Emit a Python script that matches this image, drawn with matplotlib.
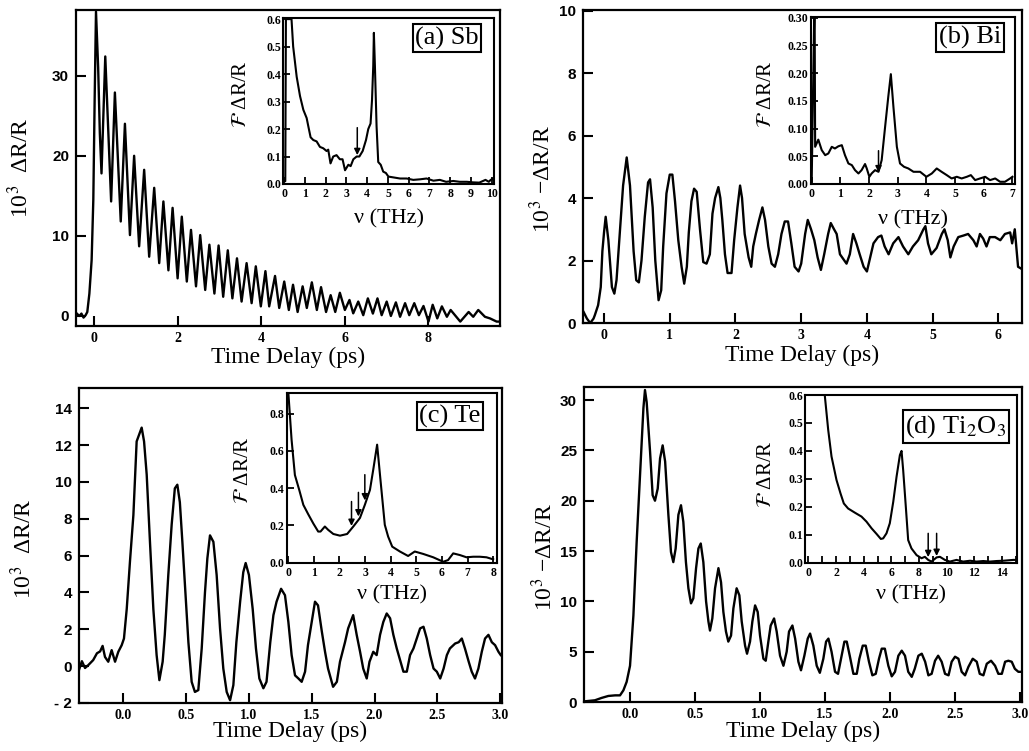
import numpy as np
import matplotlib
matplotlib.use('Agg')
import matplotlib.pyplot as plt

plt.rcParams['font.family'] = 'Liberation Serif'
plt.rcParams['mathtext.fontset'] = 'stix'

# (a) Sb time trace
sb_t = [-0.43, -0.35, -0.3, -0.25, -0.2, -0.16, -0.11, -0.056, -0.016, 0.016,
        0.048, 0.10, 0.14, 0.18, 0.27, 0.41, 0.50, 0.64, 0.74, 0.86,
        0.96, 1.08, 1.20, 1.32, 1.44, 1.56, 1.66, 1.78, 1.88, 2.00,
        2.10, 2.22, 2.32, 2.44, 2.54, 2.66, 2.76, 2.88, 2.98, 3.09,
        3.20, 3.31, 3.42, 3.53, 3.65, 3.77, 3.87, 3.99, 4.10, 4.19,
        4.33, 4.43, 4.55, 4.66, 4.76, 4.87, 4.99, 5.09, 5.21, 5.33,
        5.43, 5.55, 5.66, 5.77, 5.88, 6.00, 6.11, 6.20, 6.32, 6.44,
        6.55, 6.67, 6.78, 6.88, 7.00, 7.10, 7.22, 7.32, 7.44, 7.54,
        7.66, 7.77, 7.88, 8.00, 8.10, 8.21, 8.32, 8.44, 8.53, 8.76,
        8.96, 9.07, 9.19, 9.35, 9.47, 9.63, 9.71]
sb_y = [0.4, 0.0, 0.3, -0.2, 0.1, 0.5, 2.8, 7.0, 14.5, 27.0,
        38.0, 31.0, 22.8, 17.8, 32.4, 14.3, 27.9, 11.8, 24.0, 10.1,
        20.0, 8.7, 18.25, 7.4, 16.0, 6.6, 14.3, 5.7, 13.5, 4.7,
        12.4, 4.3, 10.75, 3.7, 10.1, 3.25, 8.9, 2.8, 8.8, 2.4,
        8.2, 2.2, 7.2, 1.8, 6.6, 1.6, 6.2, 1.2, 5.6, 1.2,
        5.0, 1.0, 4.3, 0.75, 3.9, 0.5, 3.7, 1.0, 4.2, 0.75,
        3.6, 0.5, 2.6, 0.5, 2.9, 0.75, 2.0, 0.33, 1.8, 0.1,
        2.2, 0.3, 2.2, 0.1, 1.8, 0.0, 1.7, -0.1, 1.6, 0.1,
        1.6, 0.1, 1.25, -0.7, 1.4, -0.3, 1.2, -0.1, 0.75, -0.7,
        0.5, -0.1, 0.75, -0.1, -0.3, -0.7, -0.7]

# (b) Bi time trace
bi_t = [-0.31, -0.26, -0.21, -0.16, -0.14, -0.09, -0.05, -0.025, 0.0, 0.025,
        0.066, 0.12, 0.157, 0.19, 0.24, 0.29, 0.345, 0.395, 0.45, 0.49,
        0.53, 0.57, 0.62, 0.67, 0.70, 0.74, 0.78, 0.83, 0.87, 0.90,
        0.95, 1.0, 1.04, 1.08, 1.13, 1.18, 1.22, 1.26, 1.29, 1.33,
        1.37, 1.41, 1.46, 1.51, 1.56, 1.61, 1.65, 1.69, 1.74, 1.77,
        1.80, 1.84, 1.88, 1.94, 1.98, 2.03, 2.07, 2.10, 2.14, 2.20,
        2.24, 2.27, 2.31, 2.36, 2.41, 2.45, 2.50, 2.55, 2.60, 2.65,
        2.70, 2.75, 2.80, 2.85, 2.90, 2.96, 3.0, 3.06, 3.10, 3.15,
        3.2, 3.25, 3.30, 3.35, 3.41, 3.45, 3.50, 3.54, 3.59, 3.64,
        3.69, 3.74, 3.79, 3.84, 3.89, 3.95, 4.0, 4.05, 4.10, 4.17,
        4.22, 4.27, 4.33, 4.40, 4.48, 4.55, 4.63, 4.70, 4.78, 4.86,
        4.89, 4.93, 4.98, 5.06, 5.14, 5.18, 5.23, 5.27, 5.32, 5.39,
        5.47, 5.54, 5.62, 5.67, 5.72, 5.77, 5.82, 5.87, 5.95, 6.03,
        6.10, 6.18, 6.21, 6.25, 6.30, 6.34]
bi_y = [0.35, 0.14, 0.0, 0.14, 0.25, 0.57, 1.15, 2.3, 2.9, 3.4,
        2.65, 1.15, 0.94, 1.37, 2.9, 4.4, 5.3, 4.4, 2.3, 1.37,
        1.3, 2.0, 3.4, 4.5, 4.6, 3.7, 2.0, 0.73, 1.05, 2.45,
        4.15, 4.75, 4.75, 3.9, 2.65, 1.8, 1.26, 1.8, 2.9, 3.9,
        4.3, 4.2, 3.0, 1.95, 1.9, 2.2, 3.5, 4.0, 4.35, 4.0,
        3.3, 2.2, 1.6, 1.6, 2.65, 3.7, 4.4, 4.0, 2.85, 2.1,
        1.8, 2.45, 2.85, 3.3, 3.7, 3.3, 2.45, 1.9, 1.8, 2.2,
        2.85, 3.25, 3.25, 2.55, 1.8, 1.65, 1.9, 2.85, 3.3, 3.0,
        2.65, 2.1, 1.7, 2.2, 2.85, 3.2, 3.0, 2.85, 2.2, 2.05,
        1.9, 2.2, 2.85, 2.55, 2.2, 1.8, 1.65, 2.1, 2.55, 2.75,
        2.8, 2.45, 2.2, 2.55, 2.75, 2.45, 2.2, 2.45, 2.65, 3.0,
        3.1, 2.55, 2.2, 2.4, 2.85, 3.0, 2.65, 2.1, 2.45, 2.75,
        2.8, 2.85, 2.65, 2.45, 2.85, 2.7, 2.45, 2.75, 2.75, 2.65,
        2.85, 2.9, 2.55, 3.0, 1.8, 1.75]

# (c) Te time trace
te_t = [-0.353, -0.33, -0.305, -0.28, -0.24, -0.21, -0.185, -0.165, -0.146, -0.12,
        -0.093, -0.066, -0.04, -0.013, 0.005, 0.027, 0.053, 0.08, 0.106, 0.133,
        0.146, 0.165, 0.186, 0.212, 0.239, 0.265, 0.287, 0.313, 0.33, 0.358,
        0.385, 0.41, 0.43, 0.45, 0.47, 0.494, 0.518, 0.544, 0.57, 0.597,
        0.624, 0.65, 0.669, 0.69, 0.717, 0.743, 0.77, 0.796, 0.823, 0.85,
        0.876, 0.9, 0.93, 0.955, 0.974, 1.0, 1.03, 1.056, 1.083, 1.115,
        1.14, 1.17, 1.195, 1.22, 1.256, 1.287, 1.314, 1.34, 1.367, 1.394,
        1.42, 1.447, 1.47, 1.5, 1.526, 1.55, 1.58, 1.606, 1.63, 1.67,
        1.7, 1.725, 1.765, 1.79, 1.83, 1.858, 1.885, 1.91, 1.938, 1.96,
        1.99, 2.017, 2.044, 2.07, 2.097, 2.124, 2.15, 2.177, 2.2, 2.23,
        2.257, 2.283, 2.31, 2.336, 2.363, 2.39, 2.416, 2.443, 2.47, 2.496,
        2.523, 2.55, 2.576, 2.6, 2.642, 2.67, 2.695, 2.72, 2.75, 2.774,
        2.8, 2.827, 2.854, 2.88, 2.907, 2.934, 2.96, 2.987, 3.005]
te_y = [-0.2, 0.27, -0.1, 0.05, 0.33, 0.7, 0.8, 1.1, 0.5, 0.24,
        0.87, 0.24, 0.78, 1.14, 1.5, 3.1, 5.7, 8.2, 12.2, 12.7,
        12.95, 12.2, 10.4, 6.75, 3.1, 0.6, -0.76, 0.24, 1.7, 4.95,
        7.7, 9.65, 9.85, 8.9, 6.75, 4.0, 1.3, -0.85, -1.4, -1.3,
        0.96, 4.0, 5.85, 7.1, 6.75, 4.95, 2.05, -0.13, -1.4, -1.85,
        -1.03, 1.3, 3.5, 5.1, 5.6, 4.95, 3.1, 0.96, -0.67, -1.2,
        -0.85, 1.3, 2.77, 3.5, 4.2, 3.85, 2.4, 0.6, -0.5, -0.67,
        -0.85, -0.3, 1.14, 2.4, 3.5, 3.3, 1.9, 0.78, -0.13, -1.12,
        -0.85, 0.24, 1.3, 2.05, 2.77, 1.7, 0.78, -0.13, -0.67, 0.24,
        0.78, 0.6, 1.7, 2.4, 2.86, 2.6, 1.7, 0.96, 0.42, -0.3,
        -0.3, 0.6, 0.96, 1.5, 2.05, 2.14, 1.5, 0.6, -0.13, -0.3,
        -0.67, -0.13, 0.6, 0.96, 1.23, 1.3, 1.5, 0.96, 0.24, -0.3,
        -0.67, -0.13, 0.78, 1.5, 1.7, 1.3, 1.14, 0.78, 0.6]

# (d) Ti2O3 time trace
ti_t = [-0.346, -0.27, -0.22, -0.167, -0.115, -0.077, -0.051, -0.026, 0.0, 0.026,
        0.051, 0.077, 0.103, 0.115, 0.128, 0.154, 0.174, 0.192, 0.213, 0.231,
        0.251, 0.27, 0.295, 0.315, 0.333, 0.351, 0.372, 0.392, 0.41, 0.43,
        0.449, 0.469, 0.487, 0.508, 0.526, 0.544, 0.564, 0.585, 0.603, 0.615,
        0.633, 0.654, 0.68, 0.7, 0.718, 0.738, 0.756, 0.777, 0.795, 0.82,
        0.841, 0.859, 0.885, 0.9, 0.923, 0.941, 0.962, 0.982, 1.0, 1.026,
        1.044, 1.064, 1.082, 1.108, 1.128, 1.154, 1.18, 1.205, 1.223, 1.249,
        1.27, 1.295, 1.315, 1.341, 1.367, 1.385, 1.41, 1.436, 1.46, 1.487,
        1.508, 1.526, 1.55, 1.577, 1.6, 1.623, 1.649, 1.667, 1.69, 1.718,
        1.744, 1.764, 1.79, 1.813, 1.838, 1.864, 1.89, 1.915, 1.936, 1.96,
        1.987, 2.013, 2.038, 2.064, 2.09, 2.115, 2.14, 2.167, 2.19, 2.218,
        2.244, 2.27, 2.295, 2.32, 2.346, 2.37, 2.397, 2.423, 2.45, 2.474,
        2.5, 2.526, 2.551, 2.577, 2.603, 2.636, 2.667, 2.69, 2.718, 2.744,
        2.777, 2.808, 2.833, 2.86, 2.885, 2.91, 2.936, 2.96, 2.987, 3.008]
ti_y = [0.07, 0.17, 0.4, 0.6, 0.66, 0.66, 1.16, 2.0, 3.6, 8.6,
        15.9, 22.5, 29.2, 31.0, 29.8, 24.9, 20.55, 20.0, 21.2, 24.2,
        25.5, 23.9, 18.6, 14.9, 13.9, 15.25, 18.6, 19.55, 17.9, 13.9,
        11.3, 9.8, 10.3, 13.3, 15.25, 15.75, 13.9, 10.0, 8.0, 7.1,
        8.3, 11.3, 13.3, 11.9, 8.95, 7.0, 6.0, 6.6, 9.3, 11.3,
        10.6, 8.0, 5.6, 4.8, 6.0, 8.0, 9.6, 8.95, 6.6, 4.3,
        4.1, 6.0, 7.6, 8.3, 7.0, 4.6, 3.6, 5.0, 7.0, 7.6,
        6.3, 4.0, 3.15, 4.6, 6.3, 6.8, 5.6, 3.6, 2.9, 4.3,
        6.0, 6.3, 5.0, 3.0, 2.8, 4.3, 6.0, 6.0, 4.6, 2.8,
        2.8, 4.3, 5.6, 5.6, 4.0, 2.65, 2.8, 4.3, 5.3, 5.3,
        3.6, 2.55, 3.0, 4.6, 5.1, 4.6, 3.0, 2.5, 3.3, 4.6,
        4.8, 4.0, 2.65, 2.8, 4.1, 4.6, 4.0, 2.8, 2.65, 4.0,
        4.5, 4.3, 3.0, 2.65, 3.5, 4.3, 4.0, 2.8, 2.65, 3.8,
        4.1, 3.6, 2.8, 2.8, 4.0, 4.1, 4.0, 3.3, 3.0, 3.0]

# Fourier spectra (insets)
sb_nu = [0.0, 0.05, 0.08, 0.35, 0.43, 0.6, 0.76, 0.92, 1.08, 1.16,
         1.27, 1.4, 1.56, 1.72, 1.88, 2.04, 2.12, 2.23, 2.36, 2.52,
         2.68, 2.81, 2.93, 3.09, 3.2, 3.33, 3.49, 3.62, 3.78, 3.94,
         4.05, 4.16, 4.23, 4.29, 4.32, 4.37, 4.45, 4.53, 4.65, 4.77,
         4.9, 5.02, 5.26, 5.58, 5.9, 6.22, 6.54, 6.86, 7.19, 7.5,
         7.8, 8.15, 8.46, 8.8, 9.1, 9.4, 9.7, 9.86, 9.95, 10.1]
sb_ft = [0.01, 0.01, 0.6, 0.6, 0.5, 0.39, 0.32, 0.27, 0.24, 0.21,
         0.17, 0.16, 0.155, 0.135, 0.13, 0.12, 0.125, 0.075, 0.1, 0.105,
         0.09, 0.09, 0.05, 0.07, 0.065, 0.09, 0.1, 0.1, 0.12, 0.16,
         0.2, 0.22, 0.305, 0.43, 0.55, 0.43, 0.21, 0.08, 0.07, 0.045,
         0.04, 0.027, 0.024, 0.02, 0.02, 0.015, 0.017, 0.02, 0.012, 0.015,
         0.008, 0.011, 0.008, 0.008, 0.006, 0.005, 0.015, 0.008, 0.015, 0.02]

bi_nu = [0.0, 0.1, 0.12, 0.23, 0.35, 0.47, 0.58, 0.7, 0.81, 0.93,
         1.05, 1.16, 1.28, 1.4, 1.51, 1.63, 1.74, 1.86, 1.92, 2.01,
         2.09, 2.21, 2.33, 2.44, 2.56, 2.67, 2.76, 2.85, 2.97, 3.08,
         3.22, 3.37, 3.55, 3.78, 4.0, 4.19, 4.36, 4.53, 4.71, 4.88,
         5.06, 5.23, 5.41, 5.55, 5.7, 5.87, 6.05, 6.22, 6.4, 6.57,
         6.74, 6.92, 7.0]
bi_ft = [0.005, 0.35, 0.067, 0.08, 0.061, 0.052, 0.055, 0.067, 0.064, 0.068,
         0.07, 0.052, 0.037, 0.034, 0.025, 0.019, 0.025, 0.036, 0.028, 0.013,
         0.019, 0.025, 0.022, 0.043, 0.103, 0.157, 0.198, 0.139, 0.067, 0.037,
         0.031, 0.028, 0.022, 0.022, 0.013, 0.019, 0.028, 0.022, 0.016, 0.01,
         0.013, 0.01, 0.013, 0.016, 0.007, 0.01, 0.013, 0.007, 0.01, 0.004,
         0.004, 0.01, 0.013]

te_nu = [0.0, 0.13, 0.26, 0.43, 0.59, 0.78, 0.98, 1.17, 1.26, 1.43,
         1.56, 1.76, 2.02, 2.3, 2.54, 2.8, 2.99, 3.19, 3.32, 3.47,
         3.6, 3.77, 3.9, 4.06, 4.36, 4.68, 4.94, 5.27, 5.66, 6.05,
         6.24, 6.44, 6.7, 6.96, 7.22, 7.48, 7.74, 8.0]
te_ft = [0.92, 0.66, 0.47, 0.39, 0.31, 0.26, 0.21, 0.167, 0.167, 0.194,
         0.176, 0.154, 0.145, 0.154, 0.194, 0.24, 0.31, 0.39, 0.5, 0.633,
         0.445, 0.203, 0.14, 0.086, 0.06, 0.036, 0.06, 0.047, 0.029, 0.005,
         0.014, 0.05, 0.041, 0.029, 0.032, 0.032, 0.029, 0.018]

ti_nu = [1.0, 1.18, 1.43, 1.67, 2.03, 2.32, 2.56, 2.87, 3.36, 3.84,
         4.2, 4.57, 4.93, 5.24, 5.41, 5.65, 5.89, 6.14, 6.38, 6.62,
         6.74, 6.86, 7.05, 7.22, 7.46, 7.83, 8.19, 8.43, 8.67, 8.91,
         9.28, 9.52, 9.88, 10.24, 10.72, 11.2, 11.7, 12.17, 12.66, 13.14,
         13.62, 14.1, 14.83, 15.2]
ti_ft = [0.75, 0.6, 0.475, 0.38, 0.296, 0.248, 0.212, 0.194, 0.179, 0.165,
         0.147, 0.123, 0.103, 0.085, 0.087, 0.105, 0.141, 0.218, 0.308, 0.385,
         0.4, 0.33, 0.2, 0.081, 0.051, 0.027, 0.016, 0.021, 0.01, 0.004,
         0.019, 0.021, 0.01, 0.004, 0.01, 0.004, 0.007, 0.004, 0.006, 0.004,
         0.006, 0.007, 0.01, 0.01]

# arrows in the insets: (nu, tail, tip)
sb_arrows = [(3.52, 0.205, 0.105)]
bi_arrows = [(2.33, 0.06, 0.021)]
te_arrows = [(2.47, 0.328, 0.197), (2.74, 0.377, 0.248), (2.99, 0.472, 0.334)]
ti_arrows = [(8.67, 0.105, 0.02), (9.28, 0.105, 0.024)]

panel_labels = ['(a) Sb', '(b) Bi', '(c) Te', '(d) Ti$_2$O$_3$']

W, H = 1029, 751


def rect(x0, y0, x1, y1):
    return [x0 / W, 1 - y1 / H, (x1 - x0) / W, (y1 - y0) / H]


def fmt(v, nd):
    s = '%.*f' % (nd, v)
    return s.replace('-', '- ')


def main_panel(fig, r, t, y, xlim, ylim, xticks, yticks, xnd, ynd, ylabel, ylx, yly, xly):
    ax = fig.add_axes(r)
    ax.plot(t, y, color='k', lw=1.7)
    ax.set_xlim(xlim)
    ax.set_ylim(ylim)
    ax.set_xticks(xticks)
    ax.set_yticks(yticks)
    ax.set_xticklabels([fmt(v, xnd) for v in xticks])
    ax.set_yticklabels([fmt(v, ynd) for v in yticks])
    plt.setp(ax.get_xticklabels(), fontfamily='Liberation Serif', fontweight='bold', fontsize=10)
    plt.setp(ax.get_yticklabels(), fontfamily='Liberation Sans', fontweight='bold', fontsize=11)
    ax.tick_params(direction='in', length=7, width=1.5)
    ax.tick_params(axis='y', pad=5)
    ax.tick_params(axis='x', pad=4)
    for s in ax.spines.values():
        s.set_linewidth(1.6)
    ax.set_xlabel('Time Delay (ps)', fontsize=17)
    ax.set_ylabel(ylabel, fontsize=17)
    ax.xaxis.set_label_coords(0.5, xly)
    ax.yaxis.set_label_coords(ylx, yly)
    return ax


def inset_panel(fig, r, nu, ft, xlim, ylim, xticks, xlabeled, yticks, ynd, arrows, ylx, yly, xly):
    ax = fig.add_axes(r)
    ax.set_facecolor('white')
    ax.plot(nu, ft, color='k', lw=1.5)
    ax.set_xlim(xlim)
    ax.set_ylim(ylim)
    ax.set_xticks(xticks)
    ax.set_xticklabels(['%g' % v if v in xlabeled else '' for v in xticks])
    ax.set_yticks(yticks)
    ax.set_yticklabels([fmt(v, ynd) for v in yticks])
    plt.setp(ax.get_xticklabels() + ax.get_yticklabels(),
             fontfamily='Liberation Serif', fontweight='bold', fontsize=8.5)
    ax.tick_params(direction='in', length=5, width=1.3)
    ax.tick_params(axis='y', pad=1.5)
    ax.tick_params(axis='x', pad=3)
    for s in ax.spines.values():
        s.set_linewidth(1.5)
    for a in arrows:
        ax.annotate('', xy=(a[0], a[2]), xytext=(a[0], a[1]),
                    arrowprops=dict(arrowstyle='-|>', color='k', lw=1.1,
                                    mutation_scale=9, shrinkA=0, shrinkB=0))
    ax.set_xlabel('ν (THz)', fontsize=16)
    ax.set_ylabel('$\\mathcal{F}$ ΔR/R', fontsize=15)
    ax.xaxis.set_label_coords(0.5, xly)
    ax.yaxis.set_label_coords(ylx, yly)
    return ax


fig = plt.figure(figsize=(W / 100, H / 100), dpi=100)

main_panel(fig, rect(76, 10, 500, 326), sb_t, sb_y, (-0.43, 9.71), (-1.25, 38.2),
           [0, 2, 4, 6, 8], [0, 10, 20, 30], 0, 0,
           '10$^{3}$  ΔR/R', -0.10, 0.5, -0.065)
main_panel(fig, rect(583, 10, 1022, 323), bi_t, bi_y, (-0.32, 6.36), (0, 10.02),
           [0, 1, 2, 3, 4, 5, 6], [0, 2, 4, 6, 8, 10], 0, 0,
           '10$^{3}$ −ΔR/R', -0.064, 0.46, -0.07)
main_panel(fig, rect(79, 388, 502, 703), te_t, te_y, (-0.353, 3.015), (-2.0, 15.1),
           [0.0, 0.5, 1.0, 1.5, 2.0, 2.5, 3.0], [-2, 0, 2, 4, 6, 8, 10, 12, 14], 1, 0,
           '10$^{3}$  ΔR/R', -0.10, 0.49, -0.058)
main_panel(fig, rect(584, 387, 1022, 702), ti_t, ti_y, (-0.354, 3.015), (0, 31.3),
           [0.0, 0.5, 1.0, 1.5, 2.0, 2.5, 3.0], [0, 5, 10, 15, 20, 25, 30], 1, 0,
           '10$^{3}$ −ΔR/R', -0.062, 0.46, -0.06)

inset_panel(fig, rect(283, 18, 494, 184), sb_nu, sb_ft, (-0.06, 10.11), (0, 0.604),
            list(range(0, 11)), list(range(0, 11)), [0, 0.1, 0.2, 0.3, 0.4, 0.5, 0.6], 1,
            sb_arrows, -0.15, 0.54, -0.155)
inset_panel(fig, rect(810.7, 17, 1015, 184), bi_nu, bi_ft, (-0.035, 7.09), (0, 0.301),
            list(range(0, 8)), list(range(0, 8)), [0, 0.05, 0.1, 0.15, 0.2, 0.25, 0.3], 2,
            bi_arrows, -0.17, 0.54, -0.155)
inset_panel(fig, rect(286.7, 393, 497, 562.7), te_nu, te_ft, (-0.06, 8.15), (0, 0.91),
            list(range(0, 9)), list(range(0, 9)), [0, 0.2, 0.4, 0.6, 0.8], 1,
            te_arrows, -0.16, 0.545, -0.135)
inset_panel(fig, rect(805, 395, 1017, 562.7), ti_nu, ti_ft, (-0.25, 15.1), (0, 0.6),
            list(range(0, 16)), list(range(0, 15, 2)), [0, 0.1, 0.2, 0.3, 0.4, 0.5, 0.6], 1,
            ti_arrows, -0.135, 0.53, -0.135)

label_pos = [(447, 38), (970, 37.5), (450, 416), (956, 426.5)]
for lab, (px, py) in zip(panel_labels, label_pos):
    fig.text(px / W, 1 - py / H, lab, ha='center', va='center', fontsize=19,
             bbox=dict(boxstyle='square,pad=0.1', fc='white', ec='k', lw=1.5))

fig.savefig('out.png', dpi=100)
